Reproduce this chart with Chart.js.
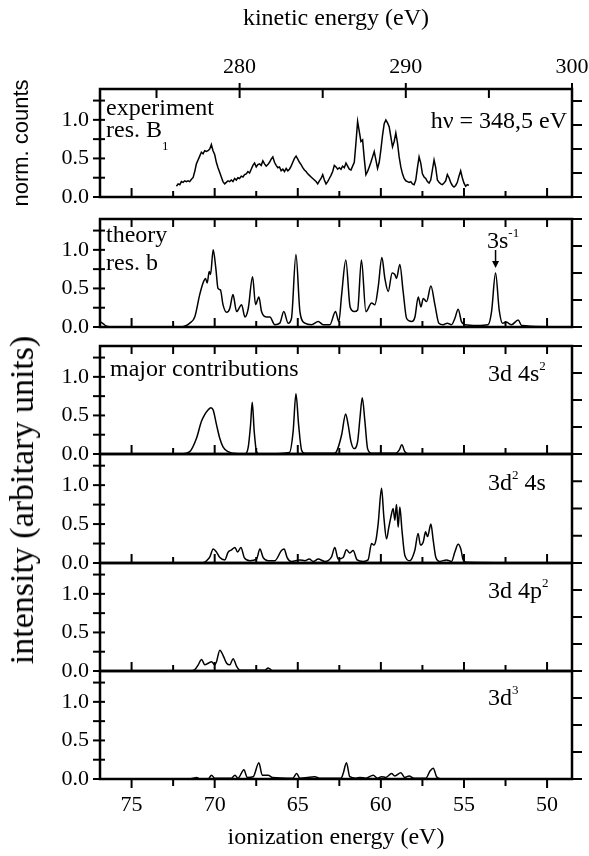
<!DOCTYPE html>
<html>
<head>
<meta charset="utf-8">
<script src="https://cdn.jsdelivr.net/npm/chart.js@4.4.0/dist/chart.umd.min.js"></script>
<style>
  html, body { margin: 0; padding: 0; background: #fff; }
  #wrap { position: relative; width: 589px; height: 856px; overflow: hidden; }
  #wrap canvas { position: absolute; left: 0; }
  #sideTitle {
    position: absolute; left: 22px; top: 500px;
    transform: translate(-50%, -50%) rotate(-90deg);
    font: 34px 'Liberation Serif', 'Times New Roman', serif;
    white-space: nowrap; color: #000;
  }
</style>
</head>
<body>
<div id="wrap">
  <canvas id="p1" width="589" height="210" style="top:0px"></canvas>
  <canvas id="p2" width="589" height="128" style="top:209px"></canvas>
  <canvas id="p3" width="589" height="128" style="top:336px"></canvas>
  <canvas id="p4" width="589" height="129" style="top:444px"></canvas>
  <canvas id="p5" width="589" height="128" style="top:553px"></canvas>
  <canvas id="p6" width="589" height="195" style="top:661px"></canvas>
  <div id="sideTitle">intensity (arbitary units)</div>
</div>
<script>
// photon energy: kinetic = hv - ionization
const photonEnergy = 348.5;
const ieMin = 48.5, ieMax = 76.9;

// experiment, resonance B1
const expEnergy = [
  72.3, 72.2, 72.1, 72.0, 71.9, 71.8, 71.7, 71.6, 71.5, 71.4,
  71.3, 71.2, 71.1, 71.0, 70.9, 70.8, 70.7, 70.6, 70.5, 70.4,
  70.3, 70.2, 70.1, 70.0, 69.9, 69.8, 69.7, 69.6, 69.5, 69.4,
  69.3, 69.2, 69.1, 69.0, 68.9, 68.8, 68.7, 68.6, 68.5, 68.4,
  68.3, 68.2, 68.1, 68.0, 67.9, 67.8, 67.7, 67.6, 67.5, 67.4,
  67.3, 67.2, 67.1, 67.0, 66.9, 66.8, 66.7, 66.6, 66.5, 66.4,
  66.3, 66.2, 66.1, 66.0, 65.9, 65.8, 65.7, 65.6, 65.5, 65.4,
  65.3, 65.2, 65.1, 65.0, 64.9, 64.8, 64.7, 64.6, 64.5, 64.4,
  64.3, 64.2, 64.1, 64.0, 63.9, 63.8, 63.7, 63.6, 63.5, 63.4,
  63.3, 63.2, 63.1, 63.0, 62.9, 62.8, 62.7, 62.6, 62.5, 62.4,
  62.3, 62.2, 62.1, 62.0, 61.9, 61.8, 61.7, 61.6, 61.5, 61.4,
  61.3, 61.2, 61.1, 61.0, 60.9, 60.8, 60.7, 60.6, 60.5, 60.4,
  60.3, 60.2, 60.1, 60.0, 59.9, 59.8, 59.7, 59.6, 59.5, 59.4,
  59.3, 59.2, 59.1, 59.0, 58.9, 58.8, 58.7, 58.6, 58.5, 58.4,
  58.3, 58.2, 58.1, 58.0, 57.9, 57.8, 57.7, 57.6, 57.5, 57.4,
  57.3, 57.2, 57.1, 57.0, 56.9, 56.8, 56.7, 56.6, 56.5, 56.4,
  56.3, 56.2, 56.1, 56.0, 55.9, 55.8, 55.7, 55.6, 55.5, 55.4,
  55.3, 55.2, 55.1, 55.0, 54.9, 54.8, 54.7
];
const expCounts = [
  0.14, 0.17, 0.16, 0.20, 0.19, 0.21, 0.20, 0.21, 0.20, 0.23,
  0.25, 0.33, 0.43, 0.48, 0.53, 0.58, 0.56, 0.60, 0.59, 0.60,
  0.62, 0.68, 0.60, 0.55, 0.45, 0.38, 0.32, 0.26, 0.20, 0.17,
  0.19, 0.21, 0.20, 0.22, 0.20, 0.24, 0.22, 0.25, 0.24, 0.27,
  0.26, 0.29, 0.30, 0.33, 0.31, 0.36, 0.41, 0.44, 0.39, 0.42,
  0.43, 0.41, 0.47, 0.43, 0.40, 0.42, 0.45, 0.49, 0.52, 0.45,
  0.41, 0.38, 0.39, 0.34, 0.36, 0.33, 0.37, 0.34, 0.36, 0.40,
  0.45, 0.50, 0.53, 0.49, 0.45, 0.42, 0.38, 0.35, 0.33, 0.30,
  0.28, 0.26, 0.24, 0.22, 0.20, 0.17, 0.21, 0.24, 0.29, 0.22,
  0.17, 0.20, 0.24, 0.28, 0.33, 0.41, 0.39, 0.36, 0.38, 0.36,
  0.40, 0.38, 0.44, 0.40, 0.36, 0.35, 0.40, 0.45, 0.70, 0.98,
  0.85, 0.72, 0.74, 0.50, 0.29, 0.33, 0.39, 0.45, 0.52, 0.59,
  0.48, 0.37, 0.45, 0.61, 0.80, 0.95, 1.00, 0.96, 0.91, 0.78,
  0.65, 0.72, 0.83, 0.70, 0.52, 0.39, 0.30, 0.24, 0.21, 0.20,
  0.19, 0.20, 0.17, 0.16, 0.22, 0.38, 0.52, 0.44, 0.30, 0.26,
  0.24, 0.20, 0.18, 0.22, 0.35, 0.48, 0.38, 0.22, 0.19, 0.17,
  0.16, 0.18, 0.21, 0.29, 0.25, 0.19, 0.15, 0.13, 0.15, 0.19,
  0.27, 0.34, 0.25, 0.18, 0.14, 0.16, 0.15
];

// theory, resonance b
const theoryEnergy = [
  76.9, 76.7, 76.5, 76.2, 72.0, 71.7, 71.5, 71.2, 70.9, 70.7,
  70.55, 70.45, 70.33, 70.25, 70.09, 69.93, 69.8, 69.65, 69.5, 69.28,
  69.09, 68.9, 68.68, 68.38, 68.18, 67.98, 67.72, 67.54, 67.34, 67.18,
  66.9, 66.68, 66.38, 66.08, 65.84, 65.58, 65.38, 65.11, 64.87, 64.57,
  64.17, 63.77, 63.47, 63.07, 62.73, 62.53, 62.36, 62.11, 61.85, 61.6,
  61.4, 61.17, 60.9, 60.56, 60.36, 60.16, 59.94, 59.76, 59.56, 59.32,
  59.16, 59.06, 58.86, 58.66, 58.45, 58.15, 57.95, 57.75, 57.59, 57.45,
  57.25, 56.99, 56.75, 56.51, 56.25, 56.01, 55.75, 55.55, 55.35, 55.15,
  54.95, 54.2, 53.55, 53.34, 53.1, 52.88, 52.68, 52.44, 52.14, 51.74,
  51.53, 48.5
];
const theoryIntensity = [
  0.07, 0.04, 0.01, 0.00, 0.00, 0.02, 0.05, 0.13, 0.42, 0.57,
  0.63, 0.57, 0.72, 0.68, 1.00, 0.76, 0.50, 0.48, 0.29, 0.19,
  0.24, 0.42, 0.20, 0.29, 0.13, 0.24, 0.65, 0.29, 0.39, 0.20,
  0.13, 0.13, 0.03, 0.05, 0.20, 0.05, 0.11, 0.94, 0.20, 0.05,
  0.03, 0.07, 0.03, 0.03, 0.20, 0.07, 0.42, 0.87, 0.26, 0.20,
  0.22, 0.87, 0.20, 0.31, 0.29, 0.52, 0.90, 0.63, 0.46, 0.70,
  0.68, 0.63, 0.81, 0.46, 0.11, 0.07, 0.13, 0.39, 0.26, 0.37,
  0.33, 0.53, 0.29, 0.05, 0.03, 0.05, 0.03, 0.11, 0.23, 0.07,
  0.03, 0.02, 0.03, 0.20, 0.70, 0.22, 0.05, 0.06, 0.03, 0.09,
  0.02, 0.00
];
const shellPeak = { energy: 53.1, intensity: 0.70 };

// 3d 4s2 contribution
const d4s2Energy = [
  72.0, 71.5, 71.1, 70.8, 70.6, 70.4, 70.23, 70.09, 69.89, 69.69,
  69.49, 69.19, 68.89, 68.2, 67.98, 67.84, 67.74, 67.62, 67.48, 67.3,
  65.5, 65.28, 65.11, 64.95, 64.77, 64.57, 62.8, 62.67, 62.36, 62.12,
  61.97, 61.8, 61.62, 61.4, 61.26, 61.12, 60.96, 60.8, 60.56, 59.1,
  58.9, 58.74, 58.56, 58.3, 48.5
];
const d4s2Intensity = [
  0.00, 0.03, 0.20, 0.42, 0.51, 0.57, 0.60, 0.57, 0.38, 0.20,
  0.09, 0.03, 0.01, 0.00, 0.09, 0.38, 0.67, 0.29, 0.03, 0.00,
  0.02, 0.29, 0.78, 0.38, 0.05, 0.01, 0.01, 0.03, 0.25, 0.52,
  0.38, 0.16, 0.07, 0.16, 0.46, 0.73, 0.42, 0.07, 0.01, 0.01,
  0.05, 0.12, 0.03, 0.00, 0.00
];

// 3d2 4s contribution
const d2sEnergy = [
  71.0, 70.6, 70.49, 70.29, 70.09, 69.89, 69.69, 69.39, 69.19, 68.98,
  68.78, 68.62, 68.42, 68.22, 67.88, 67.48, 67.28, 67.08, 66.78, 66.38,
  65.98, 65.82, 65.64, 65.38, 64.88, 64.57, 64.31, 64.07, 63.77, 63.37,
  62.97, 62.77, 62.57, 62.27, 62.07, 61.87, 61.67, 61.43, 61.07, 60.77,
  60.56, 60.42, 60.3, 60.16, 59.96, 59.82, 59.66, 59.52, 59.4, 59.26,
  59.16, 59.06, 58.96, 58.86, 58.73, 58.56, 58.26, 57.96, 57.76, 57.62,
  57.45, 57.31, 57.19, 56.99, 56.85, 56.69, 56.45, 56.05, 55.75, 55.55,
  55.35, 55.19, 55.05, 54.84, 48.5
];
const d2sIntensity = [
  0.00, 0.01, 0.03, 0.08, 0.18, 0.14, 0.07, 0.04, 0.14, 0.17,
  0.20, 0.14, 0.20, 0.07, 0.03, 0.05, 0.18, 0.07, 0.03, 0.03,
  0.16, 0.18, 0.07, 0.02, 0.04, 0.03, 0.05, 0.02, 0.05, 0.02,
  0.08, 0.20, 0.05, 0.07, 0.17, 0.13, 0.16, 0.04, 0.02, 0.04,
  0.25, 0.23, 0.29, 0.51, 0.96, 0.59, 0.31, 0.46, 0.59, 0.70,
  0.55, 0.75, 0.46, 0.72, 0.42, 0.10, 0.03, 0.16, 0.38, 0.23,
  0.27, 0.40, 0.34, 0.50, 0.29, 0.07, 0.02, 0.04, 0.02, 0.14,
  0.24, 0.18, 0.04, 0.01, 0.00
];

// 3d 4p2 contribution
const d4p2Energy = [
  71.7, 71.49, 71.19, 70.99, 70.79, 70.59, 70.39, 70.19, 69.99, 69.89,
  69.69, 69.49, 69.28, 69.09, 68.89, 68.68, 68.48, 66.98, 66.78, 66.58
];
const d4p2Intensity = [
  0.00, 0.00, 0.02, 0.08, 0.15, 0.08, 0.10, 0.12, 0.08, 0.12,
  0.27, 0.20, 0.10, 0.08, 0.16, 0.06, 0.01, 0.01, 0.04, 0.01
];

// 3d3 contribution
const d3Energy = [
  71.5, 71.29, 71.09, 70.9, 70.4, 70.19, 70.0, 69.0, 68.78, 68.6,
  68.24, 68.04, 67.68, 67.34, 67.14, 66.78, 66.52, 65.3, 65.07, 64.87,
  63.97, 63.7, 62.4, 62.27, 62.07, 61.87, 61.5, 61.26, 60.9, 60.46,
  60.2, 59.96, 59.7, 59.36, 59.16, 58.8, 58.56, 58.3, 58.01, 57.3,
  57.05, 56.85, 56.65, 56.4
];
const d3Intensity = [
  0.00, 0.01, 0.02, 0.00, 0.00, 0.05, 0.01, 0.01, 0.05, 0.01,
  0.12, 0.02, 0.03, 0.21, 0.05, 0.05, 0.02, 0.01, 0.07, 0.01,
  0.03, 0.01, 0.01, 0.07, 0.21, 0.03, 0.01, 0.02, 0.01, 0.05,
  0.01, 0.03, 0.02, 0.07, 0.04, 0.08, 0.02, 0.04, 0.01, 0.01,
  0.10, 0.14, 0.03, 0.00
];

const serif = "'Liberation Serif', 'Times New Roman', serif";
const tickFont = { family: serif, size: 22 };
const textSize = 24, supSize = 13;

function isMultiple(v, step) {
  return Math.abs(v / step - Math.round(v / step)) < 1e-6;
}

// frame around each panel plus hand-placed tick marks
const panelFrame = {
  id: 'panelFrame',
  afterDraw(chart, args, o) {
    const { ctx, chartArea: a, scales } = chart;
    const line = (x1, y1, x2, y2) => {
      ctx.beginPath(); ctx.moveTo(x1, y1); ctx.lineTo(x2, y2); ctx.stroke();
    };
    ctx.save();
    ctx.strokeStyle = '#000';
    ctx.lineWidth = 2;
    scales.y.ticks.forEach(t => {
      const py = scales.y.getPixelForValue(t.value);
      line(a.left - 7, py, a.left + 5, py);
    });
    scales.yR.ticks.forEach(t => {
      const py = scales.yR.getPixelForValue(t.value);
      line(a.right, py, a.right + 10, py);
    });
    const xt = scales.x.ticks.map(t => ({
      px: scales.x.getPixelForValue(t.value), major: isMultiple(t.value, 5)
    }));
    if (o.bottom === 'in') xt.forEach(t => line(t.px, a.bottom, t.px, a.bottom - (t.major ? 9 : 6)));
    if (o.bottom === 'out') xt.forEach(t => line(t.px, a.bottom, t.px, a.bottom + (t.major ? 9 : 7)));
    if (o.top === 'in') xt.forEach(t => line(t.px, a.top, t.px, a.top + 8));
    if (o.top === 'ke') {
      const s = scales.xKE;
      s.ticks.forEach(t => {
        const px = s.getPixelForValue(t.value);
        const major = isMultiple(t.value, 10);
        line(px, major ? a.top - 6 : a.top, px, a.top + 9);
      });
    }
    ctx.lineWidth = 2.5;
    ctx.strokeRect(a.left, a.top, a.right - a.left, a.bottom - a.top);
    ctx.restore();
  }
};

// labels inside the panels, with super- and subscripts
const panelText = {
  id: 'panelText',
  afterDraw(chart, args, o) {
    const { ctx, chartArea: a, scales } = chart;
    ctx.save();
    ctx.fillStyle = '#000';
    ctx.textBaseline = 'alphabetic';
    ctx.textAlign = 'left';
    const fontFor = p => `${p ? supSize : (o.size || textSize)}px ${serif}`;
    (o.items || []).forEach(item => {
      let width = 0;
      item.parts.forEach(([t, p]) => { ctx.font = fontFor(p); width += ctx.measureText(t).width; });
      let cx = item.right ? a.right + item.x - width : a.left + item.x;
      const by = a.top + item.y;
      item.parts.forEach(([t, p]) => {
        ctx.font = fontFor(p);
        const dy = p === 1 ? -11 : p === -1 ? 13 : 0;
        ctx.fillText(t, cx, by + dy);
        cx += ctx.measureText(t).width;
      });
    });
    if (o.arrow) {
      const px = scales.x.getPixelForValue(o.arrow.energy);
      const tip = scales.y.getPixelForValue(o.arrow.intensity) - 5;
      ctx.strokeStyle = '#000';
      ctx.lineWidth = 1.5;
      ctx.beginPath(); ctx.moveTo(px, tip - 18); ctx.lineTo(px, tip - 5); ctx.stroke();
      ctx.beginPath(); ctx.moveTo(px - 3.5, tip - 7); ctx.lineTo(px + 3.5, tip - 7); ctx.lineTo(px, tip); ctx.closePath(); ctx.fill();
    }
    ctx.restore();
  }
};

function panel(id, energy, values, cfg) {
  const points = energy.map((e, i) => ({ x: e, y: values[i] }));
  const scales = {
    x: {
      type: 'linear', position: 'bottom', min: ieMin, max: ieMax, reverse: true,
      ticks: {
        stepSize: 2.5, includeBounds: false, autoSkip: false, maxRotation: 0,
        display: !!cfg.bottomLabels, padding: 13, color: '#000', font: tickFont,
        callback: v => isMultiple(v, 5) ? String(v) : ''
      },
      grid: { display: false, drawTicks: false },
      border: { display: false },
      title: {
        display: !!cfg.bottomLabels, text: 'ionization energy (eV)', color: '#000',
        font: { family: serif, size: 24 }, padding: { top: 0, bottom: 4 }
      },
      afterFit: s => { s.height = cfg.bottomH; s.paddingLeft = 0; s.paddingRight = 0; }
    },
    y: {
      type: 'linear', position: 'left', min: 0, max: 1.4,
      ticks: {
        stepSize: 0.25, includeBounds: false, autoSkip: false, padding: 11,
        color: '#000', font: tickFont,
        callback: v => isMultiple(v, 0.5) ? v.toFixed(1) : ''
      },
      grid: { display: false, drawTicks: false },
      border: { display: false },
      title: {
        display: !!cfg.yTitle, text: cfg.yTitle || '', color: '#000',
        font: { family: "'Liberation Sans', Arial, sans-serif", size: 22 },
        padding: { top: 9, bottom: 0 }
      },
      afterFit: s => { s.width = 100; s.paddingTop = 0; s.paddingBottom = 0; }
    },
    yR: {
      type: 'linear', position: 'right', min: 0, max: cfg.rightMax,
      ticks: { stepSize: 1, includeBounds: false, display: false },
      grid: { display: false, drawTicks: false },
      border: { display: false },
      afterFit: s => { s.width = 17; s.paddingTop = 0; s.paddingBottom = 0; }
    }
  };
  if (cfg.kinetic) {
    scales.xKE = {
      type: 'linear', position: 'top', axis: 'x',
      min: photonEnergy - ieMax, max: photonEnergy - ieMin,
      ticks: {
        stepSize: 5, includeBounds: false, autoSkip: false, maxRotation: 0,
        padding: 9, color: '#000', font: tickFont,
        callback: v => isMultiple(v, 10) ? String(v) : ''
      },
      grid: { display: false, drawTicks: false },
      border: { display: false },
      title: {
        display: true, text: 'kinetic energy (eV)', color: '#000',
        font: { family: serif, size: 24 }, padding: { top: 4, bottom: 0 }
      },
      afterFit: s => { s.height = 89; s.paddingLeft = 0; s.paddingRight = 0; }
    };
  }
  return new Chart(document.getElementById(id), {
    type: 'line',
    data: {
      datasets: [{
        data: points,
        borderColor: '#000',
        borderWidth: 1.5,
        pointRadius: 0,
        fill: false,
        tension: cfg.smooth ? 0.3 : 0,
        cubicInterpolationMode: cfg.smooth ? 'monotone' : 'default'
      }]
    },
    options: {
      responsive: false,
      animation: false,
      events: [],
      layout: { padding: { top: cfg.padTop, bottom: 0, left: 0, right: 0 } },
      plugins: {
        legend: { display: false },
        tooltip: { enabled: false },
        panelFrame: { top: cfg.top, bottom: cfg.bottom },
        panelText: { items: cfg.text, arrow: cfg.arrow }
      },
      scales
    },
    plugins: [panelFrame, panelText]
  });
}

panel('p1', expEnergy, expCounts, {
  kinetic: true, padTop: 0, bottomH: 13, top: 'ke', bottom: 'in', rightMax: 4.5,
  yTitle: 'norm. counts',
  text: [
    { x: 6, y: 26, parts: [['experiment']] },
    { x: 6, y: 48, parts: [['res. B'], ['1', -1]] },
    { x: -5, y: 39, right: true, parts: [['h\u03bd = 348,5 eV']] }
  ]
});
panel('p2', theoryEnergy, theoryIntensity, {
  smooth: true, padTop: 10, bottomH: 10, top: 'in', bottom: 'in', rightMax: 4,
  text: [
    { x: 6, y: 23, parts: [['theory']] },
    { x: 6, y: 51, parts: [['res. b']] },
    { x: 387, y: 29, parts: [['3s'], ['-1', 1]] }
  ],
  arrow: shellPeak
});
panel('p3', d4s2Energy, d4s2Intensity, {
  smooth: true, padTop: 10, bottomH: 10, top: 'in', bottom: 'in', rightMax: 4,
  text: [
    { x: 10, y: 30, parts: [['major contributions']] },
    { x: 388, y: 35, parts: [['3d 4s'], ['2', 1]] }
  ]
});
panel('p4', d2sEnergy, d2sIntensity, {
  smooth: true, padTop: 10, bottomH: 10, bottom: 'in', rightMax: 4,
  text: [{ x: 388, y: 36, parts: [['3d'], ['2', 1], [' 4s']] }]
});
panel('p5', d4p2Energy, d4p2Intensity, {
  smooth: true, padTop: 10, bottomH: 10, bottom: 'in', rightMax: 4,
  text: [{ x: 388, y: 35, parts: [['3d 4p'], ['2', 1]] }]
});
panel('p6', d3Energy, d3Intensity, {
  smooth: true, padTop: 10, bottomH: 77, bottom: 'out', bottomLabels: true, rightMax: 4,
  text: [{ x: 388, y: 34, parts: [['3d'], ['3', 1]] }]
});
</script>
</body>
</html>
